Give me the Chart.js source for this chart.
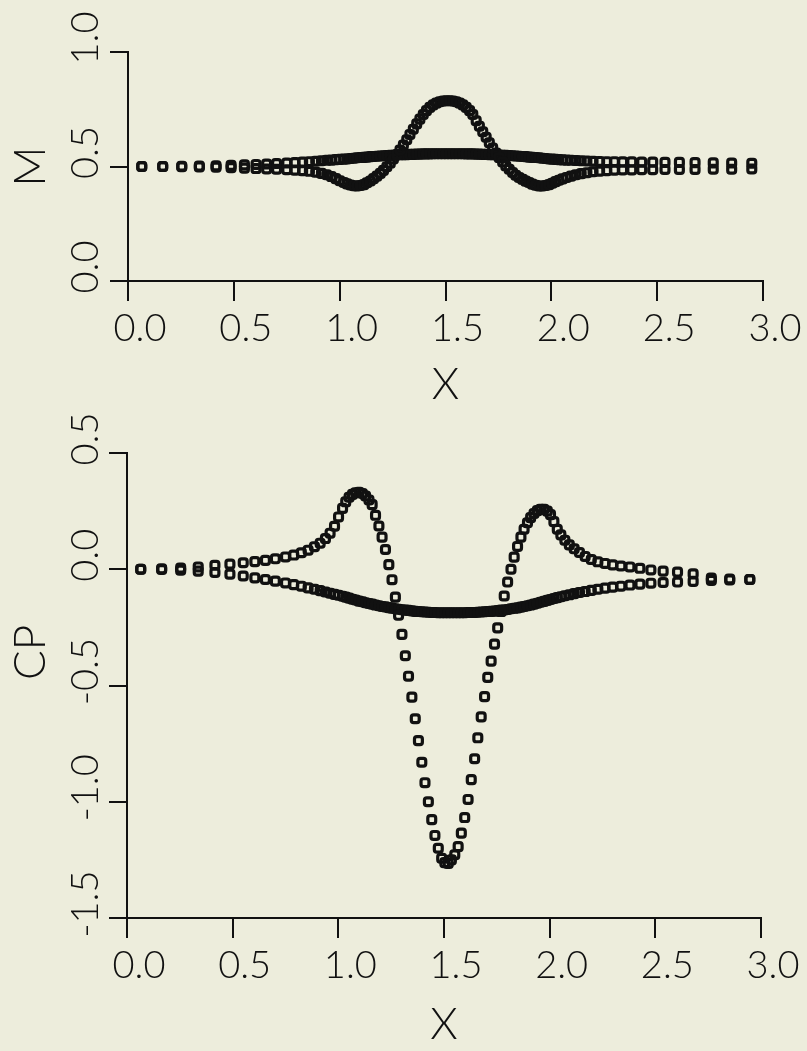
<!DOCTYPE html>
<html>
<head>
<meta charset="utf-8">
<script src="https://cdn.jsdelivr.net/npm/chart.js@4.4.1/dist/chart.umd.min.js"></script>
<style>
  html, body { margin: 0; padding: 0; background: #ededdc; }
  body { width: 807px; height: 1051px; position: relative; overflow: hidden; }
  canvas { position: absolute; left: 0; }
  #machChart { top: 0; }
  #cpChart { top: 411px; }
</style>
</head>
<body>
<canvas id="machChart" width="807" height="411"></canvas>
<canvas id="cpChart" width="807" height="640"></canvas>
<script>
// Grid stations along the channel (cell centres), shared by both plots
const xGrid = [
  0.065, 0.164, 0.254, 0.337, 0.416, 0.487, 0.550, 0.605, 0.655, 0.702,
  0.750, 0.789, 0.825, 0.857, 0.887, 0.914, 0.939, 0.961, 0.982, 1.001,
  1.020, 1.035, 1.051, 1.067, 1.082, 1.098, 1.114, 1.129, 1.145, 1.160,
  1.176, 1.192, 1.207, 1.223, 1.239, 1.254, 1.270, 1.285, 1.301, 1.317,
  1.332, 1.348, 1.364, 1.379, 1.395, 1.410, 1.426, 1.442, 1.457, 1.473,
  1.489, 1.504, 1.520, 1.535, 1.551, 1.567, 1.582, 1.598, 1.614, 1.629,
  1.645, 1.660, 1.676, 1.692, 1.707, 1.723, 1.739, 1.754, 1.770, 1.785,
  1.801, 1.817, 1.832, 1.848, 1.864, 1.879, 1.895, 1.910, 1.926, 1.942,
  1.957, 1.973, 1.989, 2.004,
  2.020, 2.036, 2.053, 2.072, 2.093, 2.116, 2.141, 2.168, 2.197, 2.228,
  2.262, 2.298, 2.337, 2.380, 2.427, 2.479, 2.537, 2.605, 2.679, 2.765,
  2.852, 2.947
];

// Mach number on the bump surface
const machBump = [
  0.500, 0.500, 0.499, 0.498, 0.497, 0.495, 0.493, 0.491, 0.489, 0.488,
  0.486, 0.484, 0.482, 0.479, 0.475, 0.470, 0.464, 0.456, 0.447, 0.438,
  0.430, 0.424, 0.419, 0.416, 0.415, 0.417, 0.421, 0.429, 0.437, 0.447,
  0.458, 0.470, 0.483, 0.499, 0.515, 0.533, 0.552, 0.572, 0.594, 0.617,
  0.640, 0.663, 0.686, 0.707, 0.727, 0.744, 0.758, 0.769, 0.777, 0.783,
  0.786, 0.787, 0.787, 0.786, 0.783, 0.777, 0.769, 0.758, 0.744, 0.727,
  0.700, 0.676, 0.652, 0.628, 0.604, 0.581, 0.559, 0.539, 0.520, 0.503,
  0.488, 0.474, 0.462, 0.452, 0.444, 0.436, 0.430, 0.423, 0.418, 0.415,
  0.415, 0.417, 0.421, 0.427,
  0.434, 0.440, 0.446, 0.452, 0.458, 0.464, 0.469, 0.473, 0.477, 0.480,
  0.482, 0.484, 0.485, 0.485, 0.486, 0.486, 0.487, 0.487, 0.487, 0.488,
  0.488, 0.489
];

// Mach number on the opposite wall
const machWall = [
  0.500, 0.500, 0.501, 0.502, 0.503, 0.505, 0.507, 0.509, 0.511, 0.513,
  0.515, 0.517, 0.519, 0.521, 0.523, 0.525, 0.527, 0.528, 0.530, 0.531,
  0.532, 0.533, 0.535, 0.536, 0.538, 0.539, 0.540, 0.541, 0.543, 0.544,
  0.545, 0.546, 0.547, 0.548, 0.549, 0.549, 0.550, 0.551, 0.552, 0.552,
  0.553, 0.553, 0.554, 0.554, 0.555, 0.555, 0.555, 0.556, 0.556, 0.556,
  0.556, 0.556, 0.556, 0.556, 0.556, 0.556, 0.556, 0.555, 0.555, 0.555,
  0.554, 0.554, 0.553, 0.553, 0.552, 0.552, 0.551, 0.550, 0.549, 0.549,
  0.548, 0.547, 0.546, 0.545, 0.544, 0.543, 0.541, 0.540, 0.539, 0.538,
  0.536, 0.535, 0.533, 0.532,
  0.531, 0.530, 0.529, 0.528, 0.527, 0.526, 0.525, 0.524, 0.523, 0.522,
  0.521, 0.521, 0.520, 0.520, 0.519, 0.519, 0.518, 0.518, 0.517, 0.516,
  0.515, 0.514
];

// Pressure coefficient on the bump surface
const cpBump = [
  0.000, 0.002, 0.005, 0.010, 0.017, 0.022, 0.028, 0.033, 0.038, 0.045,
  0.053, 0.061, 0.071, 0.082, 0.097, 0.112, 0.132, 0.155, 0.185, 0.225,
  0.262, 0.290, 0.310, 0.322, 0.329, 0.331, 0.326, 0.315, 0.298, 0.278,
  0.232, 0.186, 0.138, 0.085, 0.020, -0.045, -0.120, -0.198, -0.280, -0.372,
  -0.460, -0.550, -0.643, -0.737, -0.830, -0.918, -1.000, -1.077, -1.145, -1.200,
  -1.243, -1.262, -1.265, -1.250, -1.228, -1.193, -1.135, -1.068, -0.990, -0.905,
  -0.815, -0.725, -0.635, -0.548, -0.465, -0.395, -0.322, -0.252, -0.182, -0.115,
  -0.055, 0.000, 0.052, 0.098, 0.138, 0.172, 0.200, 0.222, 0.240, 0.252,
  0.258, 0.258, 0.250, 0.235,
  0.205, 0.172, 0.148, 0.125, 0.105, 0.088, 0.072, 0.055, 0.042, 0.032,
  0.025, 0.019, 0.014, 0.010, 0.004, -0.003, -0.008, -0.012, -0.020, -0.038,
  -0.042, -0.044
];

// Pressure coefficient on the opposite wall
const cpWall = [
  0.000, -0.001, -0.004, -0.008, -0.014, -0.021, -0.029, -0.037, -0.044, -0.051,
  -0.059, -0.066, -0.073, -0.080, -0.086, -0.092, -0.098, -0.103, -0.108, -0.112,
  -0.116, -0.120, -0.124, -0.129, -0.132, -0.137, -0.140, -0.144, -0.147, -0.150,
  -0.154, -0.157, -0.160, -0.162, -0.165, -0.167, -0.170, -0.172, -0.174, -0.176,
  -0.177, -0.179, -0.181, -0.182, -0.183, -0.184, -0.185, -0.186, -0.186, -0.187,
  -0.187, -0.187, -0.187, -0.187, -0.187, -0.187, -0.187, -0.187, -0.186, -0.186,
  -0.186, -0.185, -0.184, -0.183, -0.182, -0.181, -0.180, -0.178, -0.176, -0.175,
  -0.173, -0.170, -0.168, -0.166, -0.163, -0.160, -0.157, -0.154, -0.150, -0.146,
  -0.142, -0.138, -0.134, -0.130,
  -0.126, -0.122, -0.118, -0.114, -0.110, -0.105, -0.100, -0.096, -0.091, -0.086,
  -0.081, -0.077, -0.073, -0.068, -0.064, -0.060, -0.057, -0.055, -0.052, -0.048,
  -0.046, -0.044
];

const xTickLabels = ['0.0', '0.5', '1.0', '1.5', '2.0', '2.5', '3.0'];
const machTickLabels = ['0.0', '0.5', '1.0'];
const cpTickLabels = ['-1.5', '-1.0', '-0.5', '0.0', '0.5'];

const INK = '#111111';
const FAMILY = "Lato, 'DejaVu Sans', sans-serif";
const TICK_FONT = { family: FAMILY, size: 38, weight: '300' };
const TITLE_FONT = { family: FAMILY, size: 44, weight: '300' };

function points(values) {
  return xGrid.map((x, i) => ({ x: x, y: values[i] }));
}

// widest tick label, used to centre the rotated labels left of the axis
function widestLabel(labels) {
  const ctx = document.createElement('canvas').getContext('2d');
  ctx.font = TICK_FONT.weight + ' ' + TICK_FONT.size + 'px ' + FAMILY;
  return Math.max.apply(null, labels.map(l => ctx.measureText(l).width));
}

const marker = {
  showLine: false,
  pointStyle: 'rectRounded',
  pointRadius: 4.6,
  pointHoverRadius: 4.6,
  borderWidth: 3.2,
  pointBorderWidth: 3.2,
  borderColor: INK,
  pointBorderColor: INK,
  backgroundColor: 'rgba(0,0,0,0)',
  pointBackgroundColor: 'rgba(0,0,0,0)'
};

function plot(id, cfg) {
  const labelPad = cfg.axisLeft - 18 - 86 - widestLabel(cfg.yLabels) / 2;
  return new Chart(document.getElementById(id), {
    type: 'scatter',
    data: {
      datasets: [
        Object.assign({ label: 'bump', data: points(cfg.bump) }, marker),
        Object.assign({ label: 'wall', data: points(cfg.wall) }, marker)
      ]
    },
    options: {
      responsive: false,
      animation: false,
      devicePixelRatio: 1,
      layout: { padding: { left: 0, top: cfg.padTop, right: cfg.padRight, bottom: 0 } },
      plugins: { legend: { display: false }, tooltip: { enabled: false } },
      scales: {
        x: {
          type: 'linear',
          position: 'bottom',
          min: 0, max: 3,
          afterFit: s => { s.height = cfg.xHeight; },
          ticks: {
            stepSize: 0.5,
            autoSkip: false,
            minRotation: 0, maxRotation: 0,
            callback: (v, i) => xTickLabels[i],
            font: TICK_FONT, color: INK,
            padding: 5, labelOffset: 12
          },
          grid: { drawOnChartArea: false, drawTicks: true, tickLength: 20, color: INK, lineWidth: 2 },
          border: { display: true, color: INK, width: 2, dash: cfg.xDash },
          title: { display: true, text: 'X', font: TITLE_FONT, color: INK, padding: 0 }
        },
        y: {
          type: 'linear',
          position: 'left',
          min: cfg.yMin, max: cfg.yMax,
          afterFit: s => { s.width = cfg.axisLeft; },
          ticks: {
            stepSize: 0.5,
            autoSkip: false,
            minRotation: 90, maxRotation: 90,
            crossAlign: 'center',
            callback: (v, i) => cfg.yLabels[i],
            font: TICK_FONT, color: INK,
            padding: labelPad, labelOffset: -14
          },
          grid: { drawOnChartArea: false, drawTicks: true, tickLength: 18, color: INK, lineWidth: 2 },
          border: { display: true, color: INK, width: 2 },
          title: { display: true, text: cfg.yTitle, font: TITLE_FONT, color: INK, padding: { top: 4, bottom: 0 } }
        }
      }
    }
  });
}

plot('machChart', {
  bump: machBump, wall: machWall,
  yMin: 0, yMax: 1, yLabels: machTickLabels, yTitle: 'M',
  axisLeft: 128, padTop: 52, padRight: 44, xHeight: 130, xDash: []
});

plot('cpChart', {
  bump: cpBump, wall: cpWall,
  yMin: -1.5, yMax: 0.5, yLabels: cpTickLabels, yTitle: '\u2003\u2003CP',
  axisLeft: 127, padTop: 42, padRight: 46, xHeight: 133, xDash: [20, 5]
});
</script>
</body>
</html>
